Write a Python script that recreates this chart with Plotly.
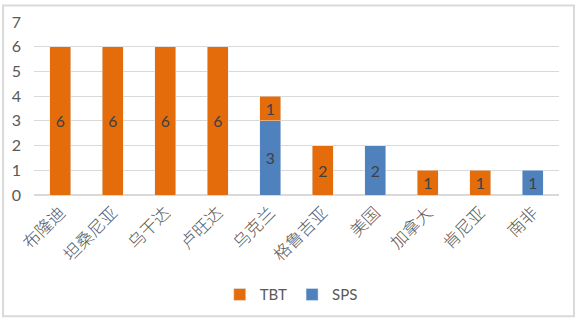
import plotly.graph_objects as go

countries = ["布隆迪", "坦桑尼亚", "乌干达", "卢旺达", "乌克兰", "格鲁吉亚", "美国", "加拿大", "肯尼亚", "南非"]
tbt = [6, 6, 6, 6, 1, 2, 0, 1, 1, 0]
sps = [0, 0, 0, 0, 3, 0, 2, 0, 0, 1]

ORANGE = "#E46C0A"
BLUE = "#4F81BD"
LABEL = "#404040"


def bar_values(vals):
    return [v if v else None for v in vals]


def bar_text(vals):
    return [str(v) if v else "" for v in vals]


fig = go.Figure()
# SPS sits at the bottom of each stack, TBT on top
fig.add_trace(go.Bar(
    x=countries, y=bar_values(sps), name="SPS", marker_color=BLUE,
    text=bar_text(sps), textposition="inside", insidetextanchor="middle",
    textfont=dict(color=LABEL, size=16, family="Lato"), width=0.4,
))
fig.add_trace(go.Bar(
    x=countries, y=bar_values(tbt), name="TBT", marker_color=ORANGE,
    text=bar_text(tbt), textposition="inside", insidetextanchor="middle",
    textfont=dict(color=LABEL, size=16, family="Lato"), width=0.4,
))

W, H = 576, 323
L, R, T, B = 33, 17, 19, 127
pw, ph = W - L - R, H - T - B

fig.update_layout(
    barmode="stack",
    width=W, height=H,
    margin=dict(l=L, r=R, t=T, b=B),
    paper_bgcolor="white", plot_bgcolor="white",
    font=dict(family="Lato", color="#595959"),
    showlegend=True,
    legend=dict(
        orientation="h", traceorder="reversed",
        x=0.49, xanchor="center", y=(T + ph - 298) / ph, yanchor="middle",
        font=dict(size=15, color="#595959"),
        itemwidth=30,
    ),
    uniformtext=dict(mode="show", minsize=10),
    shapes=[dict(
        type="rect", xref="paper", yref="paper",
        x0=(2 - L) / pw, x1=(574 - L) / pw,
        y0=(T + ph - 320) / ph, y1=1 + (T - 2) / ph,
        line=dict(color="#D9D9D9", width=2), fillcolor="rgba(0,0,0,0)", layer="below",
    )],
)
fig.update_yaxes(
    range=[0, 7], dtick=1, showgrid=True, gridcolor="#D9D9D9", gridwidth=1,
    zeroline=True, zerolinecolor="#D9D9D9", showline=False,
    tickfont=dict(size=16, color="#595959", family="Lato"), ticklabelstandoff=12,
)
fig.update_xaxes(
    tickangle=-45, showline=True, linecolor="#D9D9D9", showgrid=False,
    tickfont=dict(size=17, color="#595959", family="Noto Sans CJK SC", weight=300),
)

fig.write_html("out.html")
